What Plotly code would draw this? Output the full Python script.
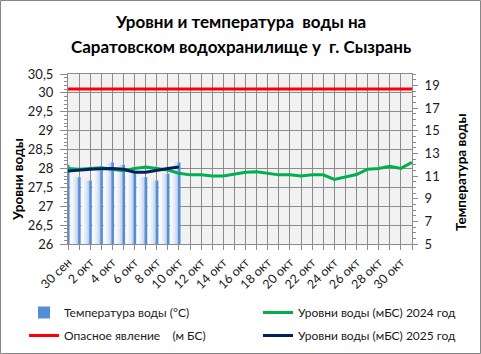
import plotly.graph_objects as go

# ---- data ----
dates = ["30 сен"] + [f"{d} окт" for d in range(1, 32)]
temp_2025 = [12.0, 10.9, 10.6, 11.5, 12.2, 12.0, 11.2, 10.9, 10.6, 11.2, 12.2]
level_2024 = [28.00, 27.98, 28.00, 28.02, 27.98, 27.94, 28.00, 28.04, 28.00, 27.96,
              27.87, 27.83, 27.83, 27.80, 27.80, 27.85, 27.90, 27.91, 27.87, 27.83,
              27.83, 27.80, 27.83, 27.83, 27.71, 27.78, 27.84, 27.98, 28.00, 28.06,
              28.00, 28.16]
level_2025 = [27.93, 27.96, 27.98, 27.99, 28.00, 27.98, 27.90, 27.90, 27.96, 28.00, 28.04]
danger_level = [30.1] * len(dates)

names = ["Температура воды (°С)", "Уровни воды (мБС) 2024 год",
         "Опасное явление    (м БС)", "Уровни воды (мБС) 2025 год"]

xi = list(range(len(dates)))
FONT = "Lato"
TXT = "#1a1a1a"

fig = go.Figure()
# temperature bars: soft gradient layers + bright stripe (primary y = temperature, right side)
xb = xi[:len(temp_2025)]
hb = [t - 5 for t in temp_2025]
for w, off, col in [(0.85, -0.8, "#f7f9fc"), (0.6, -0.55, "#e6edf7"),
                    (0.38, -0.33, "#cfdcf0"), (0.2, -0.15, "#aac3e8")]:
    fig.add_trace(go.Bar(x=xb, y=hb, base=5, width=w, offset=off,
                         marker=dict(color=col, line_width=0),
                         showlegend=False, hoverinfo="skip", yaxis="y"))
fig.add_trace(go.Bar(x=xb, y=hb, base=5, width=0.22, offset=-0.08,
                     marker=dict(color="#558ed5", line_width=0),
                     name=names[0], yaxis="y", legend="legend", legendgroup="a"))
fig.add_trace(go.Scatter(x=xi, y=level_2024, mode="lines", name=names[1],
                         line=dict(color="#00b050", width=3), yaxis="y2",
                         legend="legend2", legendgroup="b"))
fig.add_trace(go.Scatter(x=xi, y=danger_level, mode="lines", name=names[2],
                         line=dict(color="#ff0000", width=3), yaxis="y2",
                         legend="legend", legendgroup="c"))
fig.add_trace(go.Scatter(x=xi[:len(level_2025)], y=level_2025, mode="lines", name=names[3],
                         line=dict(color="#002060", width=3), yaxis="y2",
                         legend="legend2", legendgroup="d"))

W, H = 481, 354
L, R, T, B = 68, 69, 74, 110
pw, ph = W - L - R, H - T - B


def px_x(v):
    return (v - L) / pw


def px_y(v):
    return (T + ph - v) / ph


def leg(xpx):
    return dict(orientation="v", xref="container", yref="container",
                x=xpx / W, xanchor="left", y=1 - 298 / H, yanchor="top",
                font=dict(family=FONT, size=12, color=TXT),
                tracegroupgap=4, itemwidth=30, traceorder="grouped",
                bgcolor="rgba(0,0,0,0)", borderwidth=0)


def note(text, x, y, size, angle=0):
    return dict(text=text, xref="paper", yref="paper", x=px_x(x), y=px_y(y),
                xanchor="center", yanchor="middle", showarrow=False, textangle=angle,
                font=dict(family=FONT, size=size, color="#000000"))


fig.update_layout(
    width=W, height=H,
    margin=dict(l=L, r=R, t=T, b=B, pad=0, autoexpand=False),
    paper_bgcolor="white", plot_bgcolor="#f2f2f2",
    font=dict(family=FONT, size=12, color=TXT),
    separators=", ",
    barmode="overlay",
    showlegend=True,
    legend=leg(24),
    legend2=leg(258),
    xaxis=dict(range=[0, len(dates) - 1], tickmode="array", tickvals=xi,
               ticktext=[d if i % 2 == 0 else "" for i, d in enumerate(dates)],
               tickangle=-45, showgrid=True, gridcolor="#8c8c8c", gridwidth=1,
               ticks="outside", ticklen=5, tickcolor="#8c8c8c",
               showline=True, linecolor="#8c8c8c", mirror=True, automargin=False,
               tickfont=dict(family=FONT, size=12.5, color=TXT), zeroline=False),
    yaxis=dict(range=[5, 20], side="right", tickmode="linear", tick0=5, dtick=2,
               showgrid=False, zeroline=False, ticks="outside", ticklen=5,
               tickcolor="#8c8c8c", showline=True, linecolor="#8c8c8c",
               ticklabelstandoff=4, automargin=False,
               minor=dict(dtick=0.5, tick0=5, ticks="outside", ticklen=3, tickcolor="#8c8c8c"),
               tickfont=dict(family=FONT, size=13, color=TXT)),
    yaxis2=dict(range=[26, 30.5], overlaying="y", side="left", tickmode="linear",
                tick0=26, dtick=0.5, showgrid=True, gridcolor="#8c8c8c", gridwidth=1,
                zeroline=False, ticks="outside", ticklen=7, tickcolor="#8c8c8c",
                showline=True, linecolor="#8c8c8c", ticklabelstandoff=4, automargin=False,
                minor=dict(dtick=0.1, ticks="outside", ticklen=3, tickcolor="#8c8c8c"),
                tickfont=dict(family=FONT, size=13, color=TXT)),
    annotations=[
        note("<b>Уровни и температура  воды на</b>", 240, 22, 17),
        note("<b>Саратовском водохранилище у  г. Сызрань</b>", 241, 47, 17),
        note("<b>Уровни воды</b>", 18, 180, 13.5, -90),
        note("<b>Температура воды</b>", 461, 173, 13.5, -90),
    ],
    shapes=[dict(type="rect", xref="paper", yref="paper",
                 x0=px_x(0.5), x1=px_x(W - 0.5),
                 y0=px_y(H - 0.5), y1=px_y(0.5),
                 line=dict(color="#868686", width=1), fillcolor="rgba(0,0,0,0)", layer="below")],
)

fig.write_html("out.html")
